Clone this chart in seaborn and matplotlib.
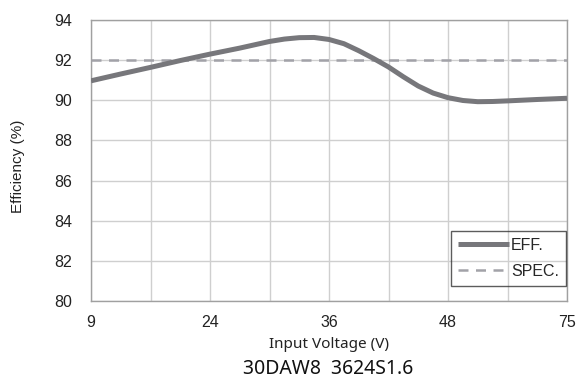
import matplotlib
matplotlib.use("Agg")
import matplotlib.pyplot as plt
import seaborn as sns
import pandas as pd

# x positions on an evenly spaced grid (gridline index; labelled gridlines at 0,2,4,6,8)
grid_pos = [0, 0.5, 1, 1.5, 2, 2.5, 3, 3.25, 3.5, 3.75, 4, 4.25, 4.5, 4.75,
            5, 5.25, 5.5, 5.75, 6, 6.25, 6.5, 6.75, 7, 7.5, 8]
efficiency = [90.97, 91.31, 91.64, 91.98, 92.3, 92.6, 92.93, 93.05, 93.12, 93.13,
              93.03, 92.82, 92.47, 92.08, 91.66, 91.17, 90.71, 90.36, 90.13,
              89.99, 89.93, 89.94, 89.97, 90.04, 90.1]
spec_value = 92.0
tick_positions = [0, 2, 4, 6, 8]
tick_labels = ["9", "24", "36", "48", "75"]
y_ticks = [80, 82, 84, 86, 88, 90, 92, 94]

df = pd.DataFrame({"pos": grid_pos, "eff": efficiency})
df_spec = pd.DataFrame({"pos": [grid_pos[0], grid_pos[-1]], "spec": [spec_value, spec_value]})

sns.set_theme(style="white")
plt.rcParams["font.family"] = ["Liberation Sans", "DejaVu Sans"]

fig = plt.figure(figsize=(5.81, 3.78), dpi=100)
ax = fig.add_axes([91/581, 1-301/378, (567-91)/581, (301-20)/378])

sns.lineplot(data=df_spec, x="pos", y="spec", ax=ax, color="#a2a2a8", lw=1.8,
             linestyle=(0, (4, 3)), label="SPEC.", zorder=3)
sns.lineplot(data=df, x="pos", y="eff", ax=ax, color="#77777b", lw=3.6,
             label="EFF.", zorder=4)
for ln in ax.lines:
    ln.set_solid_joinstyle("round")
    ln.set_solid_capstyle("butt")

ax.set_xlim(0, 8)
ax.set_ylim(80, 94)
ax.set_xticks(tick_positions)
ax.set_xticklabels(tick_labels)
ax.set_xticks([1, 3, 5, 7], minor=True)
ax.set_yticks(y_ticks)
ax.grid(True, which="both", color="#cfcfcf", lw=1.0)
ax.set_axisbelow(True)
for s in ax.spines.values():
    s.set_color("#a0a0a0")
    s.set_linewidth(1.0)
ax.tick_params(axis="both", which="both", length=0, labelsize=11.5, colors="#222222")
ax.tick_params(axis="x", pad=10)
ax.tick_params(axis="y", pad=13.5)

ax.set_ylabel("Efficiency (%)", fontsize=11, color="#222222")
ax.yaxis.set_label_coords((18-91)/476, (301-166.5)/281)
ax.yaxis.label.set_va("center")
ax.set_xlabel("Input Voltage (V)", fontsize=11, color="#222222",
              fontfamily=["Noto Sans", "DejaVu Sans"])
ax.xaxis.set_label_coords((329-91)/476, (301-345)/281)
ax.xaxis.label.set_va("center")
fig.text(328/581, 1-369/378, "30DAW8  3624S1.6", ha="center", va="center",
         fontsize=14, color="#111111",
         fontfamily=["Noto Sans", "DejaVu Sans"])

handles, labels = ax.get_legend_handles_labels()
order = [labels.index("EFF."), labels.index("SPEC.")]
leg = ax.legend([handles[i] for i in order], [labels[i] for i in order],
                loc="lower right", bbox_to_anchor=(0.998, 0.053),
                fontsize=11.5, frameon=True, fancybox=False,
                edgecolor="#333333", handlelength=3.2, handletextpad=0.1,
                borderpad=0.45, labelspacing=0.7, borderaxespad=0)
leg.get_frame().set_facecolor("none")
leg.get_frame().set_linewidth(1.0)

fig.savefig("out.png", dpi=100)
